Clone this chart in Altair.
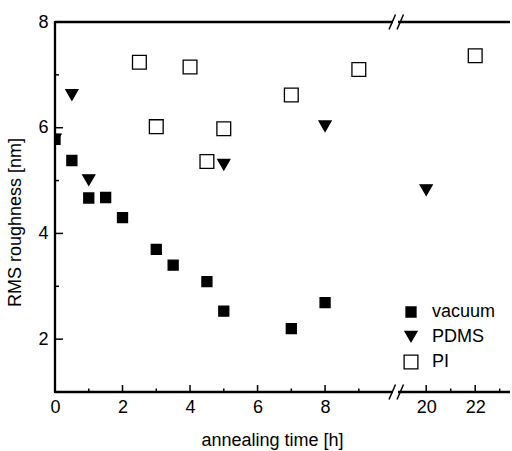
import altair as alt
import pandas as pd

# ---- data ----
vac_t = [0, 0.5, 1, 1.5, 2, 3, 3.5, 4.5, 5, 7, 8]
vac_r = [5.78, 5.38, 4.67, 4.68, 4.30, 3.70, 3.40, 3.09, 2.53, 2.20, 2.69]
pdms_t = [0, 0.5, 1, 5, 8, 20]
pdms_r = [5.78, 6.62, 5.01, 5.30, 6.03, 4.82]
pi_t = [2.5, 3, 4, 4.5, 5, 7, 9, 22]
pi_r = [7.24, 6.02, 7.15, 5.36, 5.98, 6.62, 7.10, 7.36]
series_names = ["vacuum", "PDMS", "PI"]

x_major_left = [0, 2, 4, 6, 8]
x_minor_left = [1, 3, 5, 7, 9]
x_major_right = [20, 22]
x_minor_right = [21, 23]
y_major = [2, 4, 6, 8]
y_minor = [3, 5, 7]

rows = []
for name, ts, rs in [("vacuum", vac_t, vac_r), ("PDMS", pdms_t, pdms_r), ("PI", pi_t, pi_r)]:
    for t, r in zip(ts, rs):
        rows.append({"series": name, "t": t, "r": r})
df = pd.DataFrame(rows)

LEFT_DOM = [0, 10.19]
RIGHT_DOM = [18.89, 23.42]
W1, W2, H = 344, 111, 370
YDOM = [1, 8]
FONT = "Liberation Sans"

left_df = df[df.t <= LEFT_DOM[1]]
right_df = df[df.t >= RIGHT_DOM[0]]

shape_scale = alt.Scale(domain=series_names, range=["square", "triangle-down", "square"])
fill_scale = alt.Scale(domain=series_names, range=["black", "black", "white"])
stroke_scale = alt.Scale(domain=series_names, range=["black", "black", "black"])
size_scale = alt.Scale(domain=series_names, range=[100, 190, 90])

yscale = alt.Scale(domain=YDOM, nice=False, zero=False)

common_axis = dict(ticks=False, grid=False, domain=False, labelFontSize=18, labelColor="black",
                   labelFont=FONT, labelFlush=False, labelOverlap=False, format="d")

x_axis_left = alt.Axis(values=x_major_left, labelPadding=6, title="annealing time [h]",
                       titleFontSize=18, titleFont=FONT, titleFontWeight="normal",
                       titleColor="black", titleX=217, titleY=53, titleAlign="center",
                       titleBaseline="alphabetic", **common_axis)
x_axis_right = alt.Axis(values=x_major_right, labelPadding=6, title=None, **common_axis)
y_axis_left = alt.Axis(values=y_major, labelPadding=7, title="RMS roughness [nm]",
                       titleFontSize=18, titleFont=FONT, titleFontWeight="normal",
                       titleColor="black", titleX=-40, titleY=200, titleAlign="center",
                       titleBaseline="middle", titleAngle=270, **common_axis)

xl = alt.X("t:Q", scale=alt.Scale(domain=LEFT_DOM, nice=False, zero=False), axis=x_axis_left)
xr = alt.X("t:Q", scale=alt.Scale(domain=RIGHT_DOM, nice=False, zero=False), axis=x_axis_right)
yl = alt.Y("r:Q", scale=yscale, axis=y_axis_left)
yr = alt.Y("r:Q", scale=yscale, axis=None)

legend = alt.Legend(title=None, orient="none", legendX=347, legendY=281, labelFontSize=18,
                    labelFont=FONT, labelColor="black", labelOffset=12, rowPadding=6.5,
                    padding=0, symbolStrokeWidth=1.3)

one = pd.DataFrame({"k": [0]})


def points(data, xenc, yenc, leg):
    return alt.Chart(data).mark_point(filled=True, strokeWidth=1.3,
                                      opacity=1, clip=True).encode(
        x=xenc, y=yenc,
        shape=alt.Shape("series:N", scale=shape_scale, legend=leg),
        fill=alt.Fill("series:N", scale=fill_scale, legend=leg),
        stroke=alt.Stroke("series:N", scale=stroke_scale, legend=leg),
        size=alt.Size("series:N", scale=size_scale, legend=leg),
    )


def xticks(vals, xenc, length):
    return alt.Chart(pd.DataFrame({"t": vals})).mark_rule(color="black", strokeWidth=1.5).encode(
        x=xenc, y=alt.value(H), y2=alt.value(H - length))


def yticks(vals, yenc, length):
    return alt.Chart(pd.DataFrame({"r": vals})).mark_rule(color="black", strokeWidth=1.5).encode(
        y=yenc, x=alt.value(0), x2=alt.value(length))


def hline(width, yy):
    return alt.Chart(one).mark_rule(color="black", strokeWidth=2.3).encode(
        x=alt.value(0), x2=alt.value(width), y=alt.value(yy))


def vline():
    return alt.Chart(one).mark_rule(color="black", strokeWidth=2.3).encode(
        x=alt.value(0), y=alt.value(-1), y2=alt.value(H + 1))


def break_marks():
    layers = []
    for yy in [0, H]:
        layers.append(alt.Chart(one).mark_rule(color="white", strokeWidth=5).encode(
            x=alt.value(-6), x2=alt.value(-1), y=alt.value(yy)))
        for x0 in [-10, -2]:
            layers.append(alt.Chart(one).mark_rule(color="black", strokeWidth=1.5).encode(
                x=alt.value(x0), x2=alt.value(x0 + 6.5),
                y=alt.value(yy + 7.5), y2=alt.value(yy - 7.5)))
    return layers


left = alt.layer(
    hline(W1, 0),
    hline(W1, H),
    vline(),
    xticks(x_major_left, xl, 7),
    xticks(x_minor_left, xl, 3.5),
    yticks(y_major, yl, 8),
    yticks(y_minor, yl, 4),
    points(left_df, xl, yl, legend),
).properties(width=W1, height=H)

right = alt.layer(
    hline(W2, 0),
    hline(W2, H),
    xticks(x_major_right, xr, 7),
    xticks(x_minor_right, xr, 3.5),
    *break_marks(),
    points(right_df, xr, yr, None),
).properties(width=W2, height=H)

chart = alt.hconcat(left, right, spacing=0, bounds="flush").resolve_scale(
    x="independent", shape="shared", fill="shared", size="shared", stroke="shared"
).properties(
    padding={"left": 6, "top": 13, "right": 0, "bottom": 10}
).configure(font=FONT, background="white").configure_view(stroke="transparent", strokeWidth=0)

chart.save("out.html", embed_options={"renderer": "svg", "actions": False})
